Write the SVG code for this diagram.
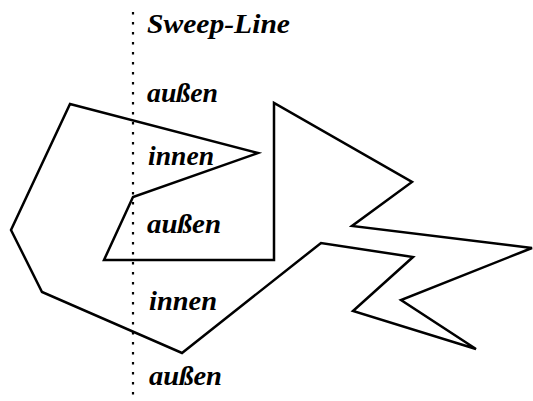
<svg xmlns="http://www.w3.org/2000/svg" width="533" height="401" viewBox="0 0 533 401">
<style>
.lbl{font-family:'Liberation Serif',Tinos,'DejaVu Serif',serif;font-style:italic;font-weight:600;font-size:27px;fill:#000}
.poly{fill:none;stroke:#000;stroke-width:2.5;stroke-linejoin:miter}
.sweep{stroke:#000;stroke-width:2.2;stroke-dasharray:2.5 7.5;fill:none}
</style>
<rect width="533" height="401" fill="#fff"/>
<g id="sweep-line">
<line class="sweep" x1="133" y1="12" x2="133" y2="401"/>
</g>
<g id="polygon">
<polygon class="poly" points="70,104 258,153 133,197 104,260 274,260 274,103 412,182 352,226 532,248 401,300 476,349 353,311 413,257 321,243 182,353 42,292 11,230"/>
</g>
<g id="labels">
<text class="lbl" x="147" y="33" textLength="143" lengthAdjust="spacingAndGlyphs">Sweep-Line</text>
<text class="lbl" x="147" y="102" textLength="71" lengthAdjust="spacingAndGlyphs">außen</text>
<text class="lbl" x="148" y="165" textLength="66" lengthAdjust="spacingAndGlyphs">innen</text>
<text class="lbl" x="147" y="233" textLength="74" lengthAdjust="spacingAndGlyphs">außen</text>
<text class="lbl" x="149" y="310" textLength="68" lengthAdjust="spacingAndGlyphs">innen</text>
<text class="lbl" x="149" y="385" textLength="73" lengthAdjust="spacingAndGlyphs">außen</text>
</g>
</svg>
